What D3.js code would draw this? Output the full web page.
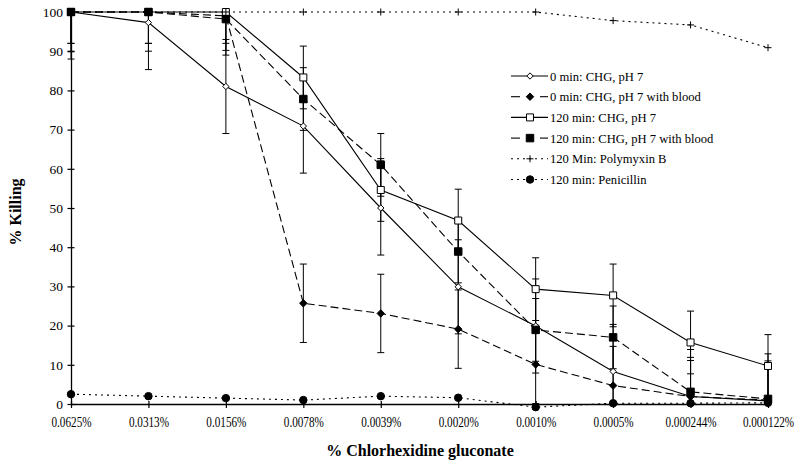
<!DOCTYPE html>
<html>
<head>
<meta charset="utf-8">
<script src="https://cdn.jsdelivr.net/npm/d3@7"></script>
<style>
  html, body { margin: 0; padding: 0; background: #fff; }
  svg { display: block; }
  text { font-family: "Liberation Serif", "Times New Roman", serif; fill: #000; }
</style>
</head>
<body>
<svg id="chart" width="800" height="465"></svg>
<script>
// ---------- data ----------
const categories = ["0.0625%", "0.0313%", "0.0156%", "0.0078%", "0.0039%", "0.0020%", "0.0010%", "0.0005%", "0.000244%", "0.000122%"];
const yTicks = [0, 10, 20, 30, 40, 50, 60, 70, 80, 90, 100];

const seriesNames = ["0 min: CHG, pH 7", "0 min: CHG, pH 7 with blood", "120 min: CHG, pH 7",
  "120 min: CHG, pH 7 with blood", "120 Min: Polymyxin B", "120 min: Penicillin"];

const chg0 =          [100, 97.3, 81.0, 70.9, 50.0, 29.9, 19.9, 8.3, 1.9, 0.8];
const chg0Blood =     [100, 100, 99.0, 25.7, 23.1, 19.1, 10.1, 4.7, 1.9, 1.0];
const chg120 =        [100, 100, 100, 83.3, 54.6, 46.8, 29.3, 27.7, 15.7, 9.7];
const chg120Blood =   [100, 100, 98.2, 77.8, 61.0, 38.9, 18.9, 17.0, 3.1, 1.3];
const polymyxin =     [100, 100, 100, 100, 100, 100, 100, 97.8, 96.7, 90.9];
const penicillin =    [2.5, 2.0, 1.5, 1.0, 2.0, 1.6, -0.8, 0.2, 0.2, 0.3];

const chg0Err =        [12, 12, 12, 12, 12, 12, 12, 12, 12, 12];
const chg0BloodErr =   [10, 10, 10, 10, 10, 10, 10, 10, 10, 10];
const chg120Err =      [8, 8, 8, 8, 8, 8, 8, 8, 8, 8];
const chg120BloodErr = [8, 8, 8, 8, 8, 8, 8, 8, 8, 8];

// ---------- layout ----------
const svg = d3.select("#chart");
const plotLeft = 71, plotRight = 768, plotTop = 12, plotBottom = 404;

const x = d3.scalePoint().domain(categories).range([plotLeft, plotRight]);
const y = d3.scaleLinear().domain([0, 100]).range([plotBottom, plotTop]);

// symbols
const plusSymbol = {
  draw(ctx, size) {
    const r = Math.sqrt(size) / 2;
    ctx.moveTo(-r, 0); ctx.lineTo(r, 0);
    ctx.moveTo(0, -r); ctx.lineTo(0, r);
  }
};
const squareDiamond = {
  draw(ctx, size) {
    const r = Math.sqrt(size) / 2;
    ctx.moveTo(0, -r); ctx.lineTo(r, 0); ctx.lineTo(0, r); ctx.lineTo(-r, 0); ctx.closePath();
  }
};

const styles = [
  { values: chg0, err: chg0Err, dash: null, sym: squareDiamond, size: 40, fill: "#fff" },
  { values: chg0Blood, err: chg0BloodErr, dash: "8,4", sym: squareDiamond, size: 56, fill: "#000" },
  { values: chg120, err: chg120Err, dash: null, sym: d3.symbolSquare, size: 49, fill: "#fff" },
  { values: chg120Blood, err: chg120BloodErr, dash: "8,4", sym: d3.symbolSquare, size: 56, fill: "#000" },
  { values: polymyxin, err: null, dash: "2,4", sym: plusSymbol, size: 49, fill: "none" },
  { values: penicillin, err: null, dash: "2,4", sym: d3.symbolCircle, size: 44, fill: "#000" }
];

// ---------- axes ----------
const yAxis = d3.axisLeft(y).tickValues(yTicks).tickSizeInner(3.5).tickSizeOuter(0).tickPadding(4.5);
const gy = svg.append("g").attr("transform", `translate(${plotLeft},0)`).call(yAxis);
gy.attr("font-family", "Liberation Serif");
gy.select(".domain").attr("stroke", "#000").attr("stroke-width", 1.3);
gy.selectAll(".tick line").attr("x1", 3.5).attr("stroke", "#000").attr("stroke-width", 1.2);
gy.selectAll(".tick text").attr("font-size", 13.5);

const xAxis = d3.axisBottom(x).tickSizeInner(4).tickSizeOuter(0).tickPadding(9);
const gx = svg.append("g").attr("transform", `translate(0,${plotBottom})`).call(xAxis);
gx.attr("font-family", "Liberation Serif");
gx.select(".domain").attr("stroke", "#000").attr("stroke-width", 1.3);
gx.selectAll(".tick line").attr("y1", -3).attr("stroke", "#000").attr("stroke-width", 1.2);
gx.selectAll(".tick text").attr("font-size", 14).attr("transform", "scale(0.8,1)");

// axis titles
svg.append("text").attr("x", 420).attr("y", 456).attr("text-anchor", "middle")
  .attr("font-size", 16).attr("font-weight", "bold").text("% Chlorhexidine gluconate");
svg.append("text").attr("transform", "translate(21,212) rotate(-90)").attr("text-anchor", "middle")
  .attr("font-size", 16).attr("font-weight", "bold").text("% Killing");

// ---------- error bars ----------
const eb = svg.append("g").attr("stroke", "#000").attr("stroke-width", 1);
styles.forEach(s => {
  if (!s.err) return;
  s.values.forEach((v, i) => {
    const cx = x(categories[i]);
    const hi = Math.min(100, v + s.err[i]);
    const lo = Math.max(0, v - s.err[i]);
    eb.append("line").attr("x1", cx).attr("x2", cx).attr("y1", y(hi)).attr("y2", y(lo));
    if (v + s.err[i] <= 100) eb.append("line").attr("x1", cx - 3.5).attr("x2", cx + 3.5).attr("y1", y(hi)).attr("y2", y(hi));
    if (v - s.err[i] >= 0) eb.append("line").attr("x1", cx - 3.5).attr("x2", cx + 3.5).attr("y1", y(lo)).attr("y2", y(lo));
  });
});

// ---------- lines ----------
const line = d3.line().x((d, i) => x(categories[i])).y(d => y(d));
styles.forEach(s => {
  svg.append("path").attr("d", line(s.values)).attr("fill", "none").attr("stroke", "#000")
    .attr("stroke-width", 1.1).attr("stroke-dasharray", s.dash);
});

// ---------- markers ----------
styles.forEach(s => {
  const sym = d3.symbol().type(s.sym).size(s.size);
  svg.append("g").selectAll("path").data(s.values).join("path")
    .attr("transform", (d, i) => `translate(${x(categories[i])},${y(d)})`)
    .attr("d", sym).attr("fill", s.fill).attr("stroke", "#000").attr("stroke-width", 1);
});

// ---------- legend ----------
const lg = svg.append("g");
styles.forEach((s, i) => {
  const cy = 76 + i * 20.7;
  if (s.dash === null) {
    lg.append("line").attr("x1", 511).attr("x2", 548).attr("y1", cy).attr("y2", cy).attr("stroke", "#000").attr("stroke-width", 1.1);
  } else if (s.dash === "8,4") {
    lg.append("line").attr("x1", 511).attr("x2", 520).attr("y1", cy).attr("y2", cy).attr("stroke", "#000").attr("stroke-width", 1.1);
    lg.append("line").attr("x1", 540).attr("x2", 548).attr("y1", cy).attr("y2", cy).attr("stroke", "#000").attr("stroke-width", 1.1);
  } else {
    lg.append("line").attr("x1", 511).attr("x2", 548).attr("y1", cy).attr("y2", cy).attr("stroke", "#000")
      .attr("stroke-width", 1.1).attr("stroke-dasharray", "2,4");
  }
  const sym = d3.symbol().type(s.sym).size(s.size);
  lg.append("path").attr("transform", `translate(530,${cy})`).attr("d", sym)
    .attr("fill", s.fill).attr("stroke", "#000").attr("stroke-width", 1);
  lg.append("text").attr("x", 550).attr("y", cy + 4.5).attr("font-size", 12.6).text(seriesNames[i]);
});
</script>
</body>
</html>
